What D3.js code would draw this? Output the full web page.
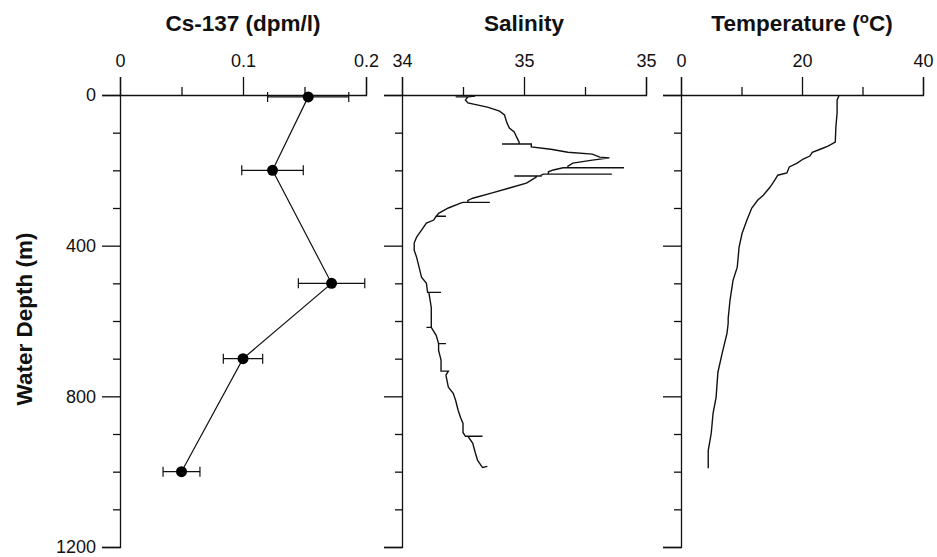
<!DOCTYPE html>
<html>
<head>
<meta charset="utf-8">
<script src="https://cdn.jsdelivr.net/npm/d3@7"></script>
<style>
  body { margin: 0; background: #fff; }
  svg { display: block; font-family: "Liberation Sans", Arial, sans-serif; }
  .title { font-size: 22.5px; font-weight: bold; fill: #111; }
</style>
</head>
<body>
<div id="chart"></div>
<script>
// depth profiles: Cs-137, salinity and temperature against water depth

var depthTicks = [0, 400, 800, 1200];
var depthMinor = [100, 200, 300, 500, 600, 700, 900, 1000, 1100];

// Cs-137 samples
var csDepth = [5, 200, 500, 700, 1000];
var csValue = [0.153, 0.124, 0.172, 0.100, 0.050];
var csError = [0.033, 0.025, 0.027, 0.016, 0.015];
var csTicks = [0, 0.1, 0.2];
var csMinor = [0.05, 0.15];

// CTD salinity (spikes kept, out and back at one depth)
var salDepth = [3, 5, 5, 5, 13, 21, 32, 43, 53, 74, 88, 98, 112, 125, 130, 130, 130, 138, 144, 152, 157, 165, 167, 173, 181,
  189, 193, 193, 193, 199, 204, 210, 210, 210, 213, 215, 215, 215, 218, 226, 234, 247, 260, 274, 280, 285, 285, 285, 287,
  300, 314, 322, 322, 322, 332, 340, 359, 377, 393, 412, 431, 457, 484, 500, 524, 524, 524, 564, 593, 617, 617, 617,
  638, 660, 660, 660, 678, 704, 731, 733, 733, 744, 776, 792, 811, 837, 856, 872, 896, 906, 906, 906, 925, 949, 970, 989, 986];
var salValue = [34.30, 34.27, 34.22, 34.27, 34.26, 34.27, 34.35, 34.40, 34.42, 34.43, 34.44, 34.46, 34.47, 34.48, 34.48, 34.41, 34.53, 34.53, 34.61, 34.68, 34.78, 34.81, 34.85, 34.78, 34.70,
  34.68, 34.68, 34.91, 34.66, 34.62, 34.60, 34.60, 34.86, 34.58, 34.57, 34.57, 34.46, 34.55, 34.55, 34.53, 34.51, 34.44, 34.37, 34.29, 34.27, 34.27, 34.36, 34.25, 34.24,
  34.19, 34.15, 34.14, 34.18, 34.14, 34.13, 34.10, 34.08, 34.06, 34.05, 34.05, 34.06, 34.07, 34.08, 34.10, 34.105, 34.16, 34.11, 34.12, 34.12, 34.12, 34.10, 34.12,
  34.14, 34.15, 34.18, 34.15, 34.15, 34.16, 34.16, 34.16, 34.19, 34.18, 34.19, 34.21, 34.22, 34.23, 34.24, 34.25, 34.25, 34.26, 34.33, 34.27, 34.29, 34.30, 34.31, 34.33, 34.35];
var salTicks = [34, 34.5, 35];
var salMinor = [34.25, 34.75];

// CTD temperature
var tempDepth = [3, 13, 48, 85, 125, 136, 144, 152, 162, 170, 181, 191, 207, 213, 226, 245, 266, 279, 300, 332, 367,
  404, 457, 492, 545, 593, 606, 633, 686, 736, 803, 845, 898, 944, 991];
var tempValue = [26.1, 25.8, 25.8, 25.6, 25.5, 24.3, 23.0, 21.7, 21.3, 20.2, 19.2, 17.9, 17.5, 16.0, 15.5, 14.7, 13.6, 12.7, 11.7, 10.9, 10.1,
  9.6, 9.3, 8.6, 8.1, 7.8, 7.8, 7.6, 6.8, 6.1, 5.8, 5.3, 5.0, 4.5, 4.5];
var tempTicks = [0, 20, 40];
var tempMinor = [10, 30];

var svgWidth = 937;
var svgHeight = 557;
var plotTop = 95, plotBottom = 547;
var majorLen = 18, minorLen = 8;

var svg = d3.select("#chart").append("svg")
  .attr("width", svgWidth)
  .attr("height", svgHeight);

var yScale = d3.scaleLinear()
  .domain([0, 1200])
  .range([plotTop, plotBottom]);

var panels = [
  { title: "Cs-137 (dpm/l)", left: 120, right: 366, domain: [0, 0.2], ticks: csTicks, minor: csMinor, fmt: d3.format(""), labels: true },
  { title: "Salinity", left: 402, right: 646, domain: [34, 35], ticks: salTicks, minor: salMinor, fmt: d3.format(".0f"), labels: false },
  { title: "Temperature", left: 681, right: 923, domain: [0, 40], ticks: tempTicks, minor: tempMinor, fmt: d3.format(""), labels: false }
];

panels.forEach(function(p) {
  p.x = d3.scaleLinear().domain(p.domain).range([p.left, p.right]);

  // top axis, major + minor
  svg.append("g")
    .attr("transform", `translate(0, ${plotTop})`)
    .call(d3.axisTop(p.x).tickValues(p.ticks).tickSize(majorLen).tickPadding(10).tickFormat(p.fmt));
  svg.append("g")
    .attr("transform", `translate(0, ${plotTop})`)
    .call(d3.axisTop(p.x).tickValues(p.minor).tickSize(minorLen).tickFormat(""))
    .select(".domain").remove();

  // left depth axis
  svg.append("g")
    .attr("transform", `translate(${p.left}, 0)`)
    .call(d3.axisLeft(yScale).tickValues(depthTicks).tickSize(majorLen).tickPadding(6)
      .tickFormat(p.labels ? d3.format("") : ""));
  svg.append("g")
    .attr("transform", `translate(${p.left}, 0)`)
    .call(d3.axisLeft(yScale).tickValues(depthMinor).tickSize(minorLen - 1).tickFormat(""))
    .select(".domain").remove();

  // panel title
  var t = svg.append("text")
    .attr("class", "title")
    .attr("x", (p.left + p.right) / 2)
    .attr("y", 31)
    .attr("text-anchor", "middle")
    .text(p.title);
  if (p.title == "Temperature") {
    t.append("tspan").text(" (");
    t.append("tspan").attr("font-size", "15px").attr("dy", -8).text("o");
    t.append("tspan").attr("dy", 8).text("C)");
  }
});

svg.selectAll(".domain").attr("stroke", "#111").attr("stroke-width", 1.3);
svg.selectAll(".tick line").attr("stroke", "#111").attr("stroke-width", 1.3);
svg.selectAll(".tick text")
  .attr("font-family", "Liberation Sans, Arial, sans-serif")
  .attr("font-size", 18)
  .attr("fill", "#111");

// y axis title
svg.append("text")
  .attr("class", "title")
  .attr("transform", `translate(32, ${(plotTop + plotBottom) / 2 - 2}) rotate(-90)`)
  .attr("text-anchor", "middle")
  .text("Water Depth (m)");

// Cs-137 profile with error bars
var cs = panels[0].x;
var csPoints = csDepth.map((d, i) => [csValue[i], d, csError[i]]);

svg.append("path")
  .datum(csPoints)
  .attr("fill", "none")
  .attr("stroke", "#111")
  .attr("stroke-width", 1.2)
  .attr("d", d3.line().x(d => cs(d[0])).y(d => yScale(d[1])));

var bars = svg.append("g").attr("stroke", "#111").attr("stroke-width", 1.2);
csPoints.forEach(function(d) {
  var yy = yScale(d[1]);
  bars.append("line").attr("x1", cs(d[0] - d[2])).attr("x2", cs(d[0] + d[2])).attr("y1", yy).attr("y2", yy);
  bars.append("line").attr("x1", cs(d[0] - d[2])).attr("x2", cs(d[0] - d[2])).attr("y1", yy - 5).attr("y2", yy + 5);
  bars.append("line").attr("x1", cs(d[0] + d[2])).attr("x2", cs(d[0] + d[2])).attr("y1", yy - 5).attr("y2", yy + 5);
});

svg.selectAll(".dot")
  .data(csPoints)
  .enter()
  .append("circle")
  .classed("dot", true)
  .attr("cx", d => cs(d[0]))
  .attr("cy", d => yScale(d[1]))
  .attr("r", 5.5)
  .attr("fill", "#000");

// salinity trace
var sal = panels[1].x;
svg.append("path")
  .datum(salDepth.map((d, i) => [salValue[i], d]))
  .attr("fill", "none")
  .attr("stroke", "#111")
  .attr("stroke-width", 1.4)
  .attr("d", d3.line().x(d => sal(d[0])).y(d => yScale(d[1])));

// temperature trace
var temp = panels[2].x;
svg.append("path")
  .datum(tempDepth.map((d, i) => [tempValue[i], d]))
  .attr("fill", "none")
  .attr("stroke", "#111")
  .attr("stroke-width", 1.4)
  .attr("d", d3.line().x(d => temp(d[0])).y(d => yScale(d[1])));
</script>
</body>
</html>
